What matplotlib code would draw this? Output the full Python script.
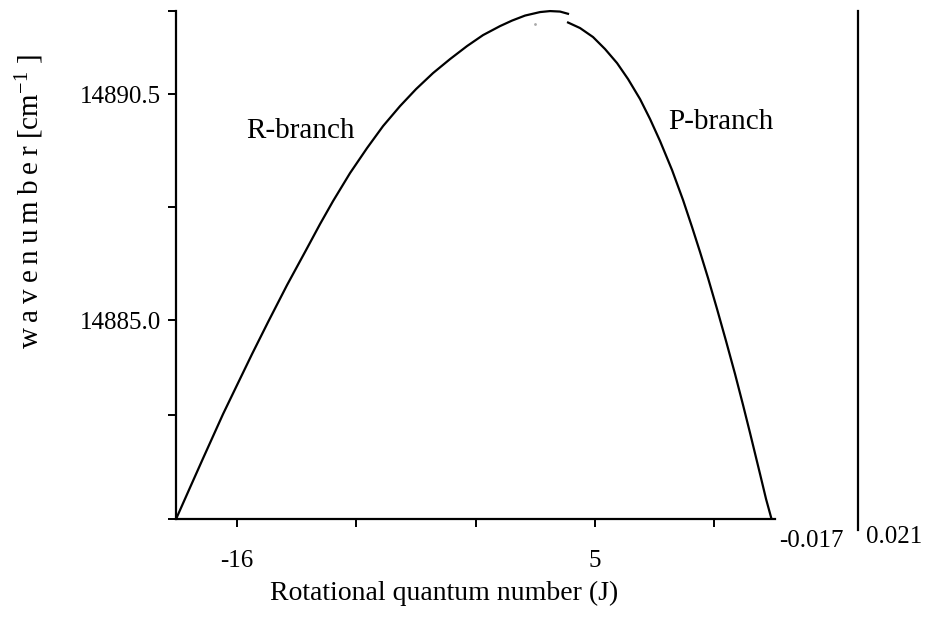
import matplotlib
matplotlib.use("Agg")
import matplotlib.pyplot as plt

plt.rcParams["font.family"] = ["Liberation Serif", "DejaVu Serif"]
plt.rcParams["mathtext.fontset"] = "custom"
plt.rcParams["mathtext.rm"] = "Liberation Serif"
plt.rcParams["mathtext.it"] = "Liberation Serif:italic"

# R-branch (left side)
r_j = [-19.558, -18.738, -17.975, -16.803, -15.982, -15.103, -14.165, -13.051,
       -11.937, -11.117, -10.355, -9.358, -8.362, -7.424, -6.427, -5.489,
       -4.493, -3.496, -2.500, -1.562, -0.565, 0.138, 0.900, 1.779, 2.365,
       2.951, 3.478]
r_nu = [14880.158, 14880.925, 14881.635, 14882.713, 14883.419, 14884.173,
        14884.951, 14885.852, 14886.703, 14887.336, 14887.895, 14888.577,
        14889.185, 14889.720, 14890.207, 14890.620, 14891.010, 14891.350,
        14891.667, 14891.934, 14892.153, 14892.287, 14892.409, 14892.494,
        14892.518, 14892.506, 14892.445]

# P-branch (right side)
p_j = [3.361, 4.123, 4.885, 5.588, 6.292, 6.937, 7.640, 8.227, 8.813, 9.516,
       10.161, 10.688, 11.157, 11.626, 12.154, 12.681, 13.209, 13.678, 14.088,
       14.674, 15.026, 15.348]
p_nu = [14892.251, 14892.105, 14891.886, 14891.594, 14891.253, 14890.864,
        14890.377, 14889.891, 14889.355, 14888.650, 14887.920, 14887.263,
        14886.655, 14886.022, 14885.268, 14884.489, 14883.686, 14882.932,
        14882.251, 14881.253, 14880.645, 14880.158]

origin_j = [1.49]
origin_nu = [14892.20]

x_ticks = [-16, -9, -2, 5, 12]
x_labels = ["-16", "", "", "5", ""]
y_ticks = [14880.16, 14882.7, 14885.0, 14887.75, 14890.5, 14892.52]
y_labels = ["", "", "14885.0", "", "14890.5", ""]
side_range = ["-0.017", "0.021"]

fig = plt.figure(figsize=(9.28, 6.19), dpi=100)
ax = fig.add_axes([176 / 928, 100 / 619, 599 / 928, 508 / 619])

ax.plot(r_j, r_nu, color="black", lw=1.6, solid_capstyle="butt", clip_on=False)
ax.plot(p_j, p_nu, color="black", lw=1.6, solid_capstyle="butt", clip_on=False)
ax.plot(origin_j, origin_nu, ".", color="#aaaaaa", ms=2)

ax.set_xlim(-19.56, 15.55)
ax.set_ylim(14880.16, 14892.52)
ax.set_xticks(x_ticks)
ax.set_xticklabels(x_labels)
ax.set_yticks(y_ticks)
ax.set_yticklabels(y_labels)

for s in ["top", "right"]:
    ax.spines[s].set_visible(False)
for s in ["left", "bottom"]:
    ax.spines[s].set_linewidth(1.6)
ax.tick_params(axis="both", direction="out", length=6, width=1.4, labelsize=18)
ax.tick_params(axis="x", pad=16)
ax.tick_params(axis="y", pad=5)

ax.text(-12.25, 14889.6, "R-branch", fontsize=21, ha="center", va="center")
ax.text(12.4, 14889.82, "P-branch", fontsize=21, ha="center", va="center")

fig.text(444 / 928, 1 - 593 / 619, "Rotational quantum number (J)",
         fontsize=20, ha="center", va="center")
ylab = "\u2009".join("wavenumber") + " [cm$^{-1}$ ]"
fig.text(30 / 928, 1 - 202 / 619, ylab, fontsize=21, rotation=90,
         ha="center", va="center")

# narrow side axis on the right
ax2 = fig.add_axes([858 / 928, 89 / 619, 0.0001, 519 / 619])
ax2.set_xticks([])
ax2.set_yticks([])
for s in ["top", "right", "bottom"]:
    ax2.spines[s].set_visible(False)
ax2.spines["left"].set_linewidth(1.6)
ax2.patch.set_alpha(0)
fig.text(811 / 928, 1 - 541 / 619, side_range[0], fontsize=18, ha="center", va="center")
fig.text(894 / 928, 1 - 537 / 619, side_range[1], fontsize=18, ha="center", va="center")

fig.savefig("out.png", dpi=100)
